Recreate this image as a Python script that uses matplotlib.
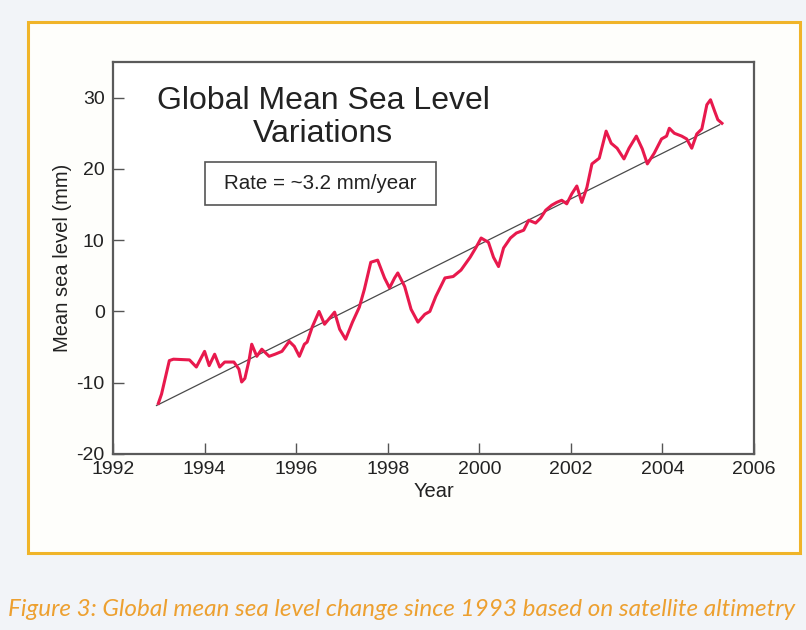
import matplotlib
matplotlib.use("Agg")
import matplotlib.pyplot as plt
from matplotlib.patches import Rectangle

# ── Data ──────────────────────────────────────────────────────────────
years = [
    1992.99, 1993.06, 1993.23, 1993.32, 1993.67, 1993.82, 1994.00, 1994.10, 1994.22,
    1994.33, 1994.44, 1994.64, 1994.75, 1994.81, 1994.88, 1994.97, 1995.03,
    1995.14, 1995.25, 1995.41, 1995.54, 1995.69, 1995.85, 1995.96, 1996.07,
    1996.18, 1996.24, 1996.35, 1996.50, 1996.62, 1996.84, 1996.95, 1997.08,
    1997.23, 1997.38, 1997.49, 1997.63, 1997.78, 1997.93, 1998.04, 1998.15,
    1998.22, 1998.37, 1998.51, 1998.66, 1998.81, 1998.92, 1999.05, 1999.25,
    1999.43, 1999.60, 1999.80, 1999.93, 2000.04, 2000.20, 2000.31, 2000.42,
    2000.53, 2000.68, 2000.81, 2000.97, 2001.08, 2001.23, 2001.34, 2001.45,
    2001.58, 2001.69, 2001.80, 2001.91, 2002.02, 2002.13, 2002.24, 2002.35,
    2002.46, 2002.62, 2002.77, 2002.88, 2003.01, 2003.16, 2003.27, 2003.43,
    2003.56, 2003.67, 2003.82, 2003.98, 2004.09, 2004.15, 2004.26, 2004.42,
    2004.53, 2004.64, 2004.75, 2004.86, 2004.97, 2005.05, 2005.14, 2005.21,
    2005.30,
]
sea_level = [
    -12.9, -11.6, -6.9, -6.7, -6.8, -7.8, -5.6, -7.6, -6.0,
    -7.8, -7.1, -7.1, -8.1, -9.9, -9.4, -6.9, -4.6,
    -6.3, -5.3, -6.3, -6.0, -5.6, -4.2, -4.9, -6.3,
    -4.6, -4.3, -2.2, 0.0, -1.8, -0.1, -2.5, -3.9,
    -1.5, 0.6, 3.1, 6.9, 7.2, 4.7, 3.3, 4.7,
    5.4, 3.5, 0.3, -1.5, -0.4, 0.0, 2.1, 4.7,
    4.9, 5.8, 7.6, 9.0, 10.3, 9.7, 7.6, 6.3,
    8.9, 10.3, 11.0, 11.4, 12.8, 12.4, 13.1, 14.2,
    14.9, 15.3, 15.6, 15.1, 16.5, 17.6, 15.3, 17.4,
    20.7, 21.5, 25.3, 23.6, 22.9, 21.4, 22.9, 24.6,
    22.8, 20.7, 22.2, 24.2, 24.6, 25.7, 25.0, 24.6,
    24.2, 22.9, 24.9, 25.6, 29.0, 29.7, 28.1, 26.9,
    26.4,
]

# linear trend (~3.2 mm/year)
trend_years = [1992.95, 2005.25]
trend_mm = [-13.2, 26.2]

x_ticks = [1992, 1994, 1996, 1998, 2000, 2002, 2004, 2006]
y_ticks = [-20, -10, 0, 10, 20, 30]

title_lines = ["Global Mean Sea Level", "Variations"]
rate_text = "Rate = ~3.2 mm/year"
caption = "Figure 3: Global mean sea level change since 1993 based on satellite altimetry"

# ── Figure ────────────────────────────────────────────────────────────
plt.rcParams["font.family"] = ["Liberation Sans", "DejaVu Sans"]
plt.rcParams["axes.unicode_minus"] = False

fig = plt.figure(figsize=(8.06, 6.3), dpi=100)
fig.patch.set_facecolor("#f2f4f8")

# yellow framed panel (behind the axes)
fig.patches.append(Rectangle((0.035, 0.122), 0.957, 0.843, transform=fig.transFigure,
                             facecolor="#fefefb", edgecolor="#f0b429", linewidth=2.2,
                             zorder=-1))

ax = fig.add_axes([0.1402, 0.2794, 0.7953, 0.6222])
ax.set_zorder(1)
ax.set_facecolor("#ffffff")

ax.plot(trend_years, trend_mm, color="#4a4a4a", linewidth=0.9, zorder=2)
ax.plot(years, sea_level, color="#e8194d", linewidth=2.2, zorder=3)

ax.set_xlim(1992, 2006)
ax.set_ylim(-20, 35)
ax.set_xticks(x_ticks)
ax.set_yticks(y_ticks)
ax.set_xticklabels([str(t) for t in x_ticks])
ax.tick_params(direction="in", length=8, width=1, colors="#555555",
               labelcolor="#222222", labelsize=14)
ax.tick_params(axis="x", pad=5)
ax.tick_params(axis="y", pad=6)
for spine in ax.spines.values():
    spine.set_color("#5a5a5a")
    spine.set_linewidth(1.6)

ax.set_xlabel("Year", fontsize=14.5, color="#222222", labelpad=3)
ax.set_ylabel("Mean sea level (mm)", fontsize=14.5, color="#222222", labelpad=3)

# title inside the plot
ax.text(0.328, 0.901, title_lines[0], transform=ax.transAxes, ha="center", va="center",
        fontsize=23, color="#222222")
ax.text(0.328, 0.816, title_lines[1], transform=ax.transAxes, ha="center", va="center",
        fontsize=23, color="#222222")

# rate box
ax.add_patch(Rectangle((0.143, 0.636), 0.361, 0.110, transform=ax.transAxes,
                       facecolor="#ffffff", edgecolor="#555555", linewidth=1.2, zorder=4))
ax.text(0.323, 0.690, rate_text, transform=ax.transAxes, ha="center", va="center",
        fontsize=14.8, color="#222222", zorder=5)

# caption
fig.text(0.01, 0.032, caption, ha="left", va="center", fontsize=17.5,
         family=["Lato", "DejaVu Sans"], style="italic", color="#eda030")

fig.savefig("out.png", dpi=100, facecolor=fig.get_facecolor())
plt.close(fig)
